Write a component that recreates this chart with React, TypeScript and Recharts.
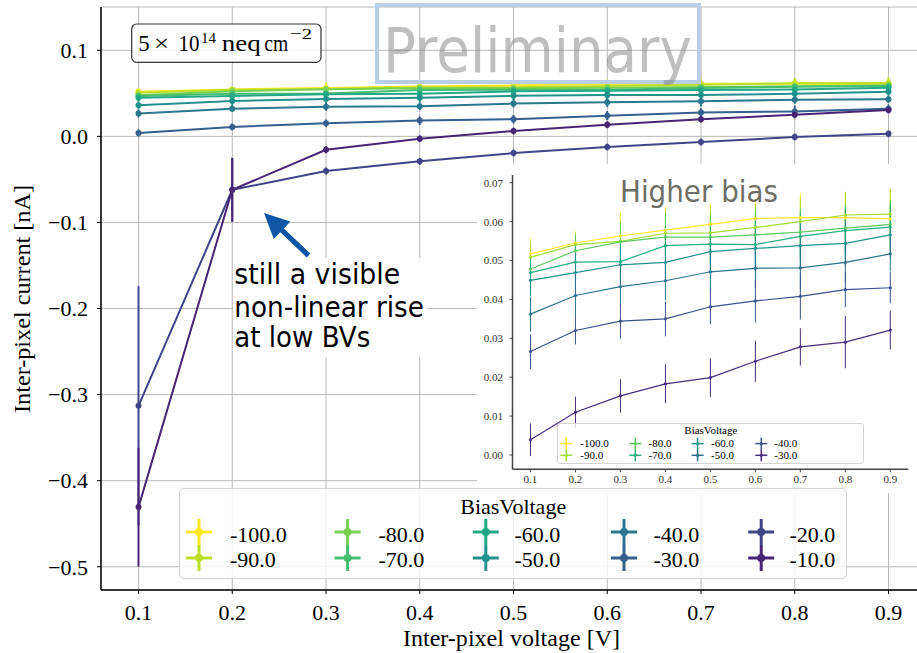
import React from 'react';
import { ComposedChart, Line, XAxis, YAxis, CartesianGrid, ErrorBar } from 'recharts';

// ---------------- data ----------------
const interPixelVoltage = [0.1, 0.2, 0.3, 0.4, 0.5, 0.6, 0.7, 0.8, 0.9];
const biasVoltages = [-100, -90, -80, -70, -60, -50, -40, -30, -20, -10];
const biasLabels = ['-100.0', '-90.0', '-80.0', '-70.0', '-60.0', '-50.0', '-40.0', '-30.0', '-20.0', '-10.0'];

const current100 = [0.0517, 0.0545, 0.0563, 0.0578, 0.0593, 0.0608, 0.061, 0.061, 0.0607];
const current90 = [0.0508, 0.0541, 0.0549, 0.057, 0.0571, 0.0585, 0.06, 0.0617, 0.0619];
const current80 = [0.0478, 0.0525, 0.0548, 0.056, 0.056, 0.0566, 0.0573, 0.0583, 0.0593];
const current70 = [0.0469, 0.0496, 0.0497, 0.0538, 0.0542, 0.0541, 0.0562, 0.0577, 0.0586];
const current60 = [0.0449, 0.0469, 0.0489, 0.0495, 0.0523, 0.0531, 0.0538, 0.0544, 0.0566];
const current50 = [0.0362, 0.041, 0.0433, 0.0448, 0.0471, 0.048, 0.0481, 0.0495, 0.0517];
const current40 = [0.0266, 0.032, 0.0344, 0.035, 0.0381, 0.0396, 0.0408, 0.0425, 0.043];
const current30 = [0.0039, 0.011, 0.0152, 0.0183, 0.0199, 0.0241, 0.0278, 0.029, 0.0321];
const current20 = [-0.313, -0.062, -0.0403, -0.029, -0.0194, -0.0124, -0.0066, -0.0008, 0.003];
const current10 = [-0.4307, -0.062, -0.0156, -0.0028, 0.0062, 0.0135, 0.02, 0.025, 0.0306];

const error100 = [0.004, 0.003, 0.006, 0.006, 0.005, 0.005, 0.006, 0.006, 0.0075];
const error90 = [0.004, 0.003, 0.005, 0.006, 0.006, 0.006, 0.006, 0.006, 0.0065];
const error80 = [0.004, 0.004, 0.005, 0.006, 0.006, 0.006, 0.006, 0.006, 0.006];
const error70 = [0.004, 0.005, 0.005, 0.005, 0.005, 0.006, 0.006, 0.006, 0.006];
const error60 = [0.004, 0.005, 0.005, 0.005, 0.005, 0.006, 0.006, 0.006, 0.006];
const error50 = [0.0045, 0.0055, 0.005, 0.005, 0.005, 0.005, 0.0055, 0.005, 0.0045];
const error40 = [0.0045, 0.0036, 0.0045, 0.0045, 0.0045, 0.0055, 0.006, 0.0045, 0.004];
const error30 = [0.0042, 0.004, 0.0043, 0.005, 0.005, 0.0053, 0.0048, 0.0067, 0.005];
const error20 = [0.139, 0.037, 0.004, 0.004, 0.004, 0.004, 0.004, 0.004, 0.004];
const error10 = [0.069, 0.037, 0.004, 0.004, 0.004, 0.004, 0.004, 0.004, 0.004];

const mainYTicks = [-0.5, -0.4, -0.3, -0.2, -0.1, 0, 0.1];
const insetYTicks = [0, 0.01, 0.02, 0.03, 0.04, 0.05, 0.06, 0.07];

const currents = [current100, current90, current80, current70, current60, current50, current40, current30, current20, current10];
const errors = [error100, error90, error80, error70, error60, error50, error40, error30, error20, error10];

// ---------------- styles ----------------
const mainColors = ['#fde725', '#bddf26', '#7ad151', '#44bf70', '#22a884', '#21918c', '#2a788e', '#355f8d', '#414487', '#482475'];
const insetColors = ['#fde725', '#a5db36', '#5ec962', '#27ad81', '#21918c', '#2c728e', '#3b528b', '#472d7b'];
const serif = "'Liberation Serif', 'Times New Roman', serif";
const sans = "'DejaVu Sans', 'Noto Sans', sans-serif";

const keyOf = (b: number) => `b${-b}`;
const errKeyOf = (b: number) => `e${-b}`;

const chartData = interPixelVoltage.map((v, i) => {
  const row: Record<string, number> = { v };
  biasVoltages.forEach((b, s) => {
    row[keyOf(b)] = currents[s][i];
    row[errKeyOf(b)] = errors[s][i];
  });
  return row;
});

const insetBias = biasVoltages.slice(0, 8);

const fmtMain = (v: number) => (v < -1e-9 ? '\u2212' : '') + Math.abs(v).toFixed(1);

type LegendProps = {
  left: number; top: number; width: number; height: number;
  title: string; titleSize: number; titleBaseline: number;
  labels: string[]; colors: string[];
  markerX: number[]; labelX: number[]; rowCy: number[]; rowBaseline: number[];
  fontSize: number; half: number; sw: number; dotR: number; radius: number;
};

function LegendBox(p: LegendProps) {
  return (
    <div
      style={{
        position: 'absolute', left: p.left, top: p.top, width: p.width, height: p.height,
        background: 'rgba(255,255,255,0.8)', border: '1px solid #d4d4d4', borderRadius: p.radius,
        boxSizing: 'border-box', zIndex: 5,
      }}
    >
      <svg width={p.width} height={p.height} style={{ position: 'absolute', left: -1, top: -1, overflow: 'visible' }}>
        <text x={p.width / 2} y={p.titleBaseline} textAnchor="middle" fontFamily={serif} fontSize={p.titleSize} fill="#000">
          {p.title}
        </text>
        {p.labels.map((lab, i) => {
          const c = Math.floor(i / 2);
          const r = i % 2;
          const mx = p.markerX[c];
          const cy = p.rowCy[r];
          const col = p.colors[i];
          return (
            <g key={lab}>
              <line x1={mx - p.half} x2={mx + p.half} y1={cy} y2={cy} stroke={col} strokeWidth={p.sw} />
              <line x1={mx} x2={mx} y1={cy - p.half} y2={cy + p.half} stroke={col} strokeWidth={p.sw} />
              <circle cx={mx} cy={cy} r={p.dotR} fill={col} />
              <text x={p.labelX[c]} y={p.rowBaseline[r]} fontFamily={serif} fontSize={p.fontSize} fill="#000">
                {lab}
              </text>
            </g>
          );
        })}
      </svg>
    </div>
  );
}

function Arrow() {
  const ax = 264, ay = 213, bx = 308.5, by = 255.5;
  const dx = bx - ax, dy = by - ay;
  const L = Math.hypot(dx, dy);
  const ux = dx / L, uy = dy / L;
  const px = -uy, py = ux;
  const hl = 25, hw = 12, sw = 2.6;
  const hx = ax + ux * hl, hy = ay + uy * hl;
  const pts = [
    [ax, ay],
    [hx + px * hw, hy + py * hw],
    [hx + px * sw, hy + py * sw],
    [bx + px * sw, by + py * sw],
    [bx - px * sw, by - py * sw],
    [hx - px * sw, hy - py * sw],
    [hx - px * hw, hy - py * hw],
  ].map((q) => q.join(',')).join(' ');
  return <polygon points={pts} fill="#0d56a3" />;
}

export default function App() {
  return (
    <div style={{ position: 'absolute', left: 0, top: 0, width: 917, height: 653, overflow: 'hidden', background: '#fff' }}>
      {/* main chart */}
      <div style={{ position: 'absolute', left: 0, top: 0 }}>
        <ComposedChart width={940} height={653} data={chartData} margin={{ top: 7, right: 14, bottom: 0, left: 0 }}>
          <CartesianGrid stroke="#b8b8b8" strokeWidth={1} />
          <XAxis
            dataKey="v" type="number" domain={[0.06, 0.94]} ticks={interPixelVoltage} allowDataOverflow
            tickFormatter={(v: number) => v.toFixed(1)} height={63} tickSize={4} tickMargin={10}
            tick={{ fontSize: 22, fill: '#000', fontFamily: serif }}
            axisLine={{ stroke: '#000', strokeWidth: 1.5 }} tickLine={{ stroke: '#000' }}
          />
          <XAxis xAxisId="top" orientation="top" dataKey="v" type="number" domain={[0.06, 0.94]} height={0}
            tick={false} tickLine={false} axisLine={{ stroke: '#000', strokeWidth: 1.5 }} />
          <YAxis
            type="number" domain={[-0.527, 0.1503]} ticks={mainYTicks} allowDataOverflow width={101}
            tickFormatter={fmtMain} tickSize={4} tickMargin={9}
            tick={{ fontSize: 22, fill: '#000', fontFamily: serif }}
            axisLine={{ stroke: '#000', strokeWidth: 1.5 }} tickLine={{ stroke: '#000' }}
          />
          {biasVoltages.map((b, s) => (
            <Line
              key={b} type="linear" dataKey={keyOf(b)} stroke={mainColors[s]} strokeWidth={2}
              dot={{ r: 3, fill: mainColors[s], stroke: mainColors[s], strokeWidth: 0 }}
              isAnimationActive={false} activeDot={false}
            >
              <ErrorBar dataKey={errKeyOf(b)} width={0} stroke={mainColors[s]} strokeWidth={2} direction="y" isAnimationActive={false} />
            </Line>
          ))}
        </ComposedChart>
      </div>

      {/* inset background */}
      <div style={{ position: 'absolute', left: 477, top: 164, width: 450, height: 329, background: '#fff', zIndex: 1 }} />

      {/* inset chart */}
      <div style={{ position: 'absolute', left: 470, top: 160, zIndex: 2 }}>
        <ComposedChart width={447} height={333} data={chartData} margin={{ top: 15, right: 8.7, bottom: 0, left: 0 }}>
          <XAxis
            dataKey="v" type="number" domain={[0.06, 0.94]} ticks={interPixelVoltage} allowDataOverflow
            tickFormatter={(v: number) => v.toFixed(1)} height={23.7} tickSize={3} tickMargin={3}
            tick={{ fontSize: 11, fill: '#333', fontFamily: serif }}
            axisLine={{ stroke: '#444', strokeWidth: 1.5 }} tickLine={{ stroke: '#444' }}
          />
          <XAxis xAxisId="top" orientation="top" dataKey="v" type="number" domain={[0.06, 0.94]} height={0}
            tick={false} tickLine={false} axisLine={{ stroke: '#444', strokeWidth: 1.5 }} />
          <YAxis
            type="number" domain={[-0.00368, 0.07198]} ticks={insetYTicks} allowDataOverflow width={42.5}
            tickFormatter={(v: number) => v.toFixed(2)} tickSize={3} tickMargin={6.5}
            tick={{ fontSize: 11, fill: '#333', fontFamily: serif }}
            axisLine={{ stroke: '#444', strokeWidth: 1.5 }} tickLine={{ stroke: '#444' }}
          />
          <YAxis yAxisId="right" orientation="right" type="number" domain={[0, 1]} width={0}
            tick={false} tickLine={false} axisLine={{ stroke: '#444', strokeWidth: 1.5 }} />
          {insetBias.map((b, s) => (
            <Line
              key={b} type="linear" dataKey={keyOf(b)} stroke={insetColors[s]} strokeWidth={1.2}
              dot={{ r: 1.6, fill: insetColors[s], stroke: insetColors[s], strokeWidth: 0 }}
              isAnimationActive={false} activeDot={false}
            >
              <ErrorBar dataKey={errKeyOf(b)} width={0} stroke={insetColors[s]} strokeWidth={1} direction="y" isAnimationActive={false} />
            </Line>
          ))}
        </ComposedChart>
      </div>

      {/* annotations */}
      <svg width={917} height={653} style={{ position: 'absolute', left: 0, top: 0, zIndex: 3, pointerEvents: 'none' }}>
        {/* axis labels */}
        <text transform="translate(30,299) rotate(-90)" textAnchor="middle" fontFamily={serif} fontSize={22.5}
          textLength={228} lengthAdjust="spacingAndGlyphs" fill="#000">Inter-pixel current [nA]</text>
        <text x={511.5} y={646} textAnchor="middle" fontFamily={serif} fontSize={22.5}
          textLength={217} lengthAdjust="spacingAndGlyphs" fill="#000">Inter-pixel voltage [V]</text>

        {/* fluence box */}
        <rect x={131.7} y={24} width={189.3} height={38.3} rx={5} fill="#fff" fillOpacity={0.85} stroke="#333" strokeWidth={1.2} />
        <text x={138.3} y={50.7} fontFamily={serif} fontSize={23} fill="#000">5</text>
        <text x={154} y={50.7} fontFamily={serif} fontSize={23} textLength={15} lengthAdjust="spacingAndGlyphs" fill="#000">×</text>
        <text x={178.5} y={50.7} fontFamily={serif} fontSize={23} textLength={21} lengthAdjust="spacingAndGlyphs" fill="#000">10</text>
        <text x={201} y={43.3} fontFamily={serif} fontSize={15.5} textLength={15} lengthAdjust="spacingAndGlyphs" fill="#000">14</text>
        <text x={221.7} y={50.7} fontFamily={serif} fontSize={23} textLength={39} lengthAdjust="spacingAndGlyphs" fill="#000">neq</text>
        <text x={264.3} y={50.7} fontFamily={serif} fontSize={23} textLength={24} lengthAdjust="spacingAndGlyphs" fill="#000">cm</text>
        <text x={290} y={38.5} fontFamily={serif} fontSize={15.5} textLength={22} lengthAdjust="spacingAndGlyphs" fill="#000">{'\u22122'}</text>

        {/* preliminary watermark */}
        <rect x={377} y={5} width={322} height={77} fill="none" stroke="#b9cde5" strokeWidth={4} />
        <text x={383} y={71.5} fontFamily={sans} fontSize={62} textLength={309} lengthAdjust="spacingAndGlyphs"
          fill="#808080" fillOpacity={0.5}>Preliminary</text>

        {/* arrow + note */}
        <Arrow />
        <rect x={233} y={258} width={194} height={99} fill="#fff" />
        <text fontFamily={sans} fontSize={28.5} fill="#000">
          <tspan x={234.3} y={284} textLength={166} lengthAdjust="spacingAndGlyphs">still a visible</tspan>
        </text>
        <text fontFamily={sans} fontSize={28.5} fill="#000">
          <tspan x={234.3} y={316.7} textLength={189.7} lengthAdjust="spacingAndGlyphs">non-linear rise</tspan>
        </text>
        <text fontFamily={sans} fontSize={28.5} fill="#000">
          <tspan x={234.3} y={347.3} textLength={136} lengthAdjust="spacingAndGlyphs">at low BVs</tspan>
        </text>

        {/* inset title */}
        <text x={620} y={202.3} fontFamily={sans} fontSize={30} textLength={158} lengthAdjust="spacingAndGlyphs"
          fill="#6e6e66">Higher bias</text>
      </svg>

      {/* inset legend */}
      <LegendBox
        left={556.7} top={422.7} width={307.6} height={41.3}
        title="BiasVoltage" titleSize={11} titleBaseline={10.8}
        labels={biasLabels.slice(0, 8)} colors={insetColors}
        markerX={[9.3, 78.3, 140.6, 204.3, 266]} labelX={[23.3, 91.6, 154, 217.3, 280]}
        rowCy={[20.6, 32.3]} rowBaseline={[24.4, 36.1]}
        fontSize={11} half={6} sw={1.5} dotR={1.6} radius={3}
      />

      {/* main legend */}
      <LegendBox
        left={178.6} top={488} width={668.4} height={91}
        title="BiasVoltage" titleSize={22} titleBaseline={26.3}
        labels={biasLabels} colors={mainColors}
        markerX={[20, 168.6, 306.8, 445, 582.2]} labelX={[50.9, 199.4, 335.4, 474.4, 610.4]}
        rowCy={[44, 70]} rowBaseline={[53.7, 79.3]}
        fontSize={22} half={13} sw={3} dotR={4} radius={5}
      />
    </div>
  );
}
